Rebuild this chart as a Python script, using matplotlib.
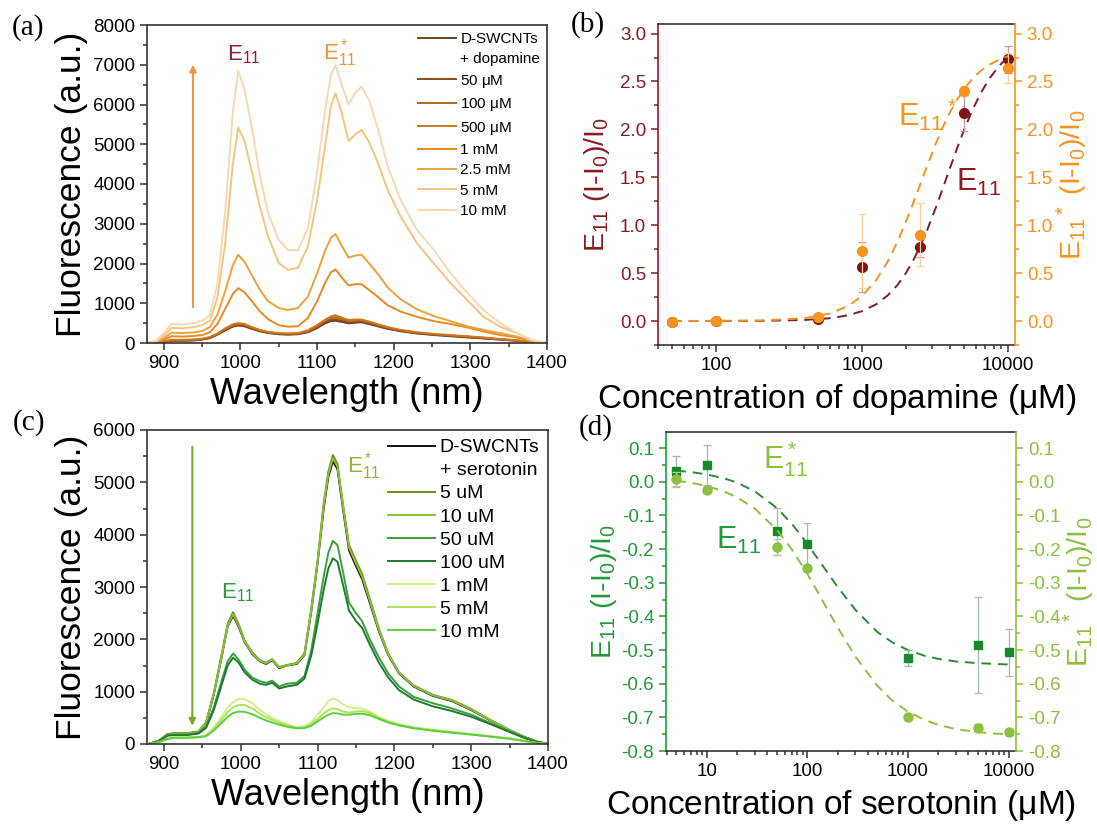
#!/usr/bin/env python3
"""
Fluorescence response of D-SWCNTs to dopamine and serotonin
(a) spectra vs dopamine, (b) dose response dopamine
(c) spectra vs serotonin, (d) dose response serotonin
"""
import matplotlib
matplotlib.use('Agg')
import matplotlib.pyplot as plt
from matplotlib.lines import Line2D
from matplotlib.ticker import MultipleLocator, LogLocator, NullFormatter

plt.rcParams['font.family'] = ['Liberation Sans', 'DejaVu Sans']
plt.rcParams['mathtext.fontset'] = 'custom'
plt.rcParams['mathtext.rm'] = 'Liberation Sans'
plt.rcParams['mathtext.it'] = 'Liberation Sans:italic'
plt.rcParams['mathtext.bf'] = 'Liberation Sans:bold'
plt.rcParams['mathtext.default'] = 'regular'

# ---------------- (a) spectra, dopamine ----------------
WL_DOPA = [878, 890, 900, 910, 925, 940, 950, 960, 970, 980, 990, 997, 1005, 1015,
           1025, 1036, 1050, 1062, 1075, 1088, 1100, 1110, 1118, 1124, 1132, 1141,
           1150, 1158, 1168, 1180, 1192, 1209, 1230, 1252, 1274, 1296, 1317, 1339,
           1361, 1380, 1400]
DOPA_LABELS = ['D-SWCNTs', '50 $\\mu$M', '100 $\\mu$M', '500 $\\mu$M', '1 mM',
               '2.5 mM', '5 mM', '10 mM']
DOPA_COLORS = ['#6e4128', '#8e4c1c', '#b5641d', '#cf771f', '#e88a24',
               '#eba23c', '#f3c581', '#f7d9b3']
DOPA_CTRL = [0, 10, 30, 55, 55, 65, 85, 120, 210, 315, 410, 440, 420, 355, 295, 250,
             220, 210, 220, 270, 375, 490, 550, 560, 530, 495, 510, 520, 475, 415,
             355, 295, 240, 200, 170, 140, 115, 85, 55, 15, 0]
DOPA_50U = [0, 10, 30, 60, 60, 70, 90, 130, 220, 330, 430, 460, 440, 370, 310, 260,
            230, 220, 230, 285, 395, 520, 585, 600, 560, 520, 535, 540, 495, 430,
            370, 305, 250, 210, 180, 150, 120, 90, 60, 15, 0]
DOPA_100U = [0, 10, 35, 70, 70, 80, 100, 140, 230, 350, 450, 480, 460, 385, 320, 270,
             240, 230, 240, 300, 420, 550, 630, 650, 600, 550, 565, 570, 520, 450,
             385, 320, 260, 220, 190, 160, 130, 95, 65, 20, 0]
DOPA_500U = [0, 10, 40, 80, 80, 90, 110, 150, 240, 370, 470, 500, 480, 400, 330, 280,
             250, 240, 250, 320, 450, 580, 670, 700, 640, 580, 590, 590, 540, 470,
             400, 330, 270, 230, 200, 170, 140, 100, 70, 20, 0]
DOPA_1M = [0, 20, 80, 170, 160, 180, 200, 270, 480, 860, 1230, 1380, 1280, 1050, 800,
           600, 450, 410, 420, 630, 1050, 1500, 1780, 1850, 1650, 1450, 1480, 1480,
           1330, 1150, 950, 790, 660, 550, 480, 390, 290, 200, 140, 40, 0]
DOPA_2M5 = [0, 30, 120, 260, 250, 270, 300, 400, 720, 1300, 1950, 2220, 2050, 1700,
            1350, 1050, 880, 830, 880, 1170, 1750, 2300, 2650, 2740, 2450, 2150, 2200,
            2220, 2000, 1720, 1400, 1100, 850, 680, 550, 420, 330, 250, 160, 50, 0]
DOPA_5M = [0, 40, 180, 380, 370, 400, 450, 560, 1150, 2500, 4500, 5420, 5100, 4300,
           3450, 2680, 2010, 1840, 1890, 2430, 3600, 4900, 5950, 6280, 5800, 5080, 5250,
           5360, 5050, 4500, 3850, 3180, 2520, 2010, 1510, 1080, 660, 410, 250, 70, 0]
DOPA_10M = [0, 60, 250, 480, 460, 500, 560, 700, 1500, 3300, 5800, 6850, 6400, 5400,
            4250, 3270, 2590, 2340, 2330, 2900, 4300, 5800, 6750, 6980, 6500, 6000, 6300,
            6450, 6100, 5350, 4450, 3600, 2850, 2350, 1760, 1260, 830, 500, 250, 80, 0]
DOPA_SPECTRA = [DOPA_CTRL, DOPA_50U, DOPA_100U, DOPA_500U, DOPA_1M, DOPA_2M5,
                DOPA_5M, DOPA_10M]

# ---------------- (b) dose response, dopamine ----------------
DOPA_CONC = [50, 100, 500, 1000, 2500, 5000, 10000]
DOPA_E11 = [-0.01, 0.0, 0.02, 0.56, 0.77, 2.17, 2.73]
DOPA_E11_ERR = [0.02, 0.02, 0.02, 0.26, 0.10, 0.19, 0.14]
DOPA_E11S = [-0.01, 0.0, 0.04, 0.73, 0.90, 2.40, 2.64]
DOPA_E11S_ERR = [0.02, 0.02, 0.03, 0.39, 0.33, 0.05, 0.16]
DOPA_FIT_X = [50, 200, 400, 600, 800, 1000, 1250, 1500, 1750, 2000, 2250, 2500, 2800,
              3200, 3600, 4000, 4500, 5000, 5700, 6500, 7500, 8700, 10000]
DOPA_FIT_E11 = [0.0, 0.002, 0.011, 0.029, 0.060, 0.103, 0.175, 0.268, 0.377, 0.502,
                0.637, 0.780, 0.954, 1.183, 1.399, 1.596, 1.812, 1.995, 2.201, 2.379,
                2.537, 2.664, 2.755]
DOPA_FIT_E11S = [0.0, 0.005, 0.029, 0.078, 0.156, 0.262, 0.428, 0.622, 0.829, 1.038,
                 1.238, 1.425, 1.625, 1.851, 2.033, 2.178, 2.317, 2.422, 2.528, 2.611,
                 2.678, 2.729, 2.764]

# ---------------- (c) spectra, serotonin ----------------
WL_SERO = [880, 893, 905, 915, 930, 945, 955, 965, 975, 983, 990, 997, 1005, 1015,
           1025, 1033, 1041, 1050, 1060, 1073, 1083, 1092, 1100, 1108, 1114, 1120,
           1126, 1133, 1141, 1150, 1158, 1168, 1180, 1192, 1206, 1225, 1250, 1275,
           1300, 1325, 1350, 1370, 1385, 1400]
SERO_LABELS = ['D-SWCNTs', '5 uM', '10 uM', '50 uM', '100 uM', '1 mM', '5 mM', '10 mM']
SERO_COLORS = ['#111111', '#6b8a22', '#8cbf3c', '#3b9f3e', '#1f7a30',
               '#d2f08e', '#b0e25a', '#5ccf3c']
SERO_CTRL = [0, 60, 190, 200, 200, 230, 400, 950, 1650, 2250, 2450, 2250, 1950, 1720,
             1580, 1530, 1600, 1450, 1500, 1530, 1700, 2550, 3450, 4500, 5100, 5400,
             5250, 4500, 3700, 3400, 3150, 2700, 2150, 1700, 1350, 1100, 920, 820, 650,
             450, 260, 130, 50, 0]
SERO_5U = [0, 60, 190, 210, 210, 240, 420, 980, 1700, 2300, 2520, 2300, 1980, 1750,
           1600, 1550, 1620, 1470, 1510, 1550, 1730, 2600, 3500, 4600, 5200, 5520,
           5350, 4600, 3800, 3500, 3250, 2780, 2200, 1730, 1370, 1120, 940, 840, 670,
           460, 270, 130, 50, 0]
SERO_10U = [0, 60, 180, 200, 200, 230, 410, 960, 1660, 2260, 2480, 2270, 1960, 1730,
            1590, 1540, 1610, 1460, 1500, 1540, 1710, 2570, 3470, 4550, 5150, 5460,
            5300, 4550, 3750, 3450, 3200, 2740, 2170, 1710, 1360, 1110, 930, 830, 660,
            455, 265, 130, 50, 0]
SERO_50U = [0, 50, 170, 180, 180, 210, 330, 700, 1200, 1580, 1730, 1620, 1420, 1270,
            1200, 1170, 1210, 1100, 1150, 1170, 1300, 1800, 2500, 3200, 3650, 3880,
            3800, 3300, 2700, 2500, 2350, 2000, 1650, 1350, 1100, 900, 780, 680, 560,
            400, 240, 120, 40, 0]
SERO_100U = [0, 50, 160, 170, 170, 200, 310, 650, 1120, 1500, 1650, 1560, 1370, 1230,
             1150, 1130, 1170, 1060, 1100, 1130, 1250, 1700, 2300, 2950, 3350, 3550,
             3480, 3050, 2550, 2350, 2220, 1900, 1550, 1270, 1030, 850, 720, 630, 520,
             380, 230, 110, 40, 0]
SERO_1M = [0, 30, 100, 120, 120, 130, 170, 320, 520, 700, 800, 860, 860, 780, 650, 570,
           500, 440, 380, 320, 340, 420, 560, 700, 820, 870, 840, 760, 700, 690, 680,
           620, 520, 440, 380, 320, 270, 230, 190, 150, 110, 60, 20, 0]
SERO_5M = [0, 30, 100, 120, 120, 130, 160, 290, 460, 610, 700, 745, 745, 680, 580, 510,
           460, 410, 360, 310, 320, 380, 480, 580, 650, 680, 665, 620, 600, 620, 630,
           590, 500, 430, 370, 310, 265, 225, 185, 145, 105, 55, 20, 0]
SERO_10M = [0, 30, 100, 120, 120, 130, 150, 260, 400, 520, 590, 620, 615, 570, 500,
            450, 410, 370, 330, 300, 305, 350, 430, 510, 560, 590, 585, 560, 560, 575,
            580, 550, 480, 410, 355, 300, 255, 215, 180, 140, 100, 55, 20, 0]
SERO_SPECTRA = [SERO_CTRL, SERO_5U, SERO_10U, SERO_50U, SERO_100U, SERO_1M,
                SERO_5M, SERO_10M]

# ---------------- (d) dose response, serotonin ----------------
SERO_CONC = [5, 10, 50, 100, 1000, 5000, 10000]
SERO_E11 = [0.031, 0.050, -0.147, -0.184, -0.523, -0.486, -0.507]
SERO_E11_ERR = [0.045, 0.060, 0.070, 0.062, 0.024, 0.143, 0.069]
SERO_E11S = [0.009, -0.024, -0.194, -0.256, -0.699, -0.731, -0.745]
SERO_E11S_ERR = [0.02, 0.01, 0.025, 0.01, 0.01, 0.01, 0.008]
SERO_FIT_X = [5, 7, 10, 15, 20, 30, 50, 70, 100, 150, 200, 300, 500, 700, 1000, 1500,
              2000, 3000, 5000, 7000, 10000]
SERO_FIT_E11 = [0.033, 0.029, 0.022, 0.010, -0.002, -0.028, -0.078, -0.124, -0.184,
                -0.259, -0.312, -0.380, -0.447, -0.477, -0.500, -0.518, -0.526,
                -0.534, -0.539, -0.541, -0.543]
SERO_FIT_E11S = [0.003, -0.003, -0.012, -0.029, -0.046, -0.079, -0.143, -0.200,
                 -0.273, -0.366, -0.432, -0.519, -0.607, -0.650, -0.683, -0.709,
                 -0.722, -0.735, -0.744, -0.748, -0.750]

DARK_RED = '#8b1a22'
ORANGE = '#f7931e'
GREEN_D = '#22993a'
GREEN_L = '#8cc03f'
SPINE = '#333333'

TICK_FS = 13.5
YLAB_FS = 20.5
W, H = 1097, 825


def rect(left, top, right, bottom):
    return [left / W, 1 - bottom / H, (right - left) / W, (bottom - top) / H]


def style_axis(ax):
    for s in ax.spines.values():
        s.set_color(SPINE)
        s.set_linewidth(1.2)
    ax.tick_params(which='both', direction='out', top=False, right=False,
                   labelsize=TICK_FS, width=1.1, color=SPINE)
    ax.tick_params(which='major', length=5)
    ax.tick_params(which='minor', length=3)


def spectra_panel(ax, wl, spectra, labels, colors, extra, ymax, ystep, leg_fs,
                  leg_hl, leg_sp):
    for y, c in zip(spectra, colors):
        ax.plot(wl, y, color=c, lw=1.4)
    ax.set_xlim(878, 1400)
    ax.set_ylim(0, ymax)
    ax.xaxis.set_major_locator(MultipleLocator(100))
    ax.xaxis.set_minor_locator(MultipleLocator(50))
    ax.yaxis.set_major_locator(MultipleLocator(ystep))
    ax.yaxis.set_minor_locator(MultipleLocator(ystep / 2))
    style_axis(ax)
    ax.set_xlabel('Wavelength (nm)', fontsize=26, labelpad=4)
    ax.set_ylabel('Fluorescence (a.u.)', fontsize=25.5, labelpad=4)

    handles = [Line2D([], [], color=colors[0], lw=1.4),
               Line2D([], [], color='none')]
    handles += [Line2D([], [], color=c, lw=1.4) for c in colors[1:]]
    names = [labels[0], extra] + labels[1:]
    ax.legend(handles, names, loc='upper right', bbox_to_anchor=(1.0, 1.0),
              frameon=False, fontsize=leg_fs, handlelength=leg_hl,
              handletextpad=0.25, labelspacing=leg_sp, borderaxespad=0.25,
              borderpad=0.2)


fig = plt.figure(figsize=(W / 100, H / 100), dpi=100)

# ---- (a)
ax_a = fig.add_axes(rect(147, 25, 547, 343))
spectra_panel(ax_a, WL_DOPA, DOPA_SPECTRA, DOPA_LABELS, DOPA_COLORS,
              '+ dopamine', 8000, 1000, 11, 2.5, 0.42)
ax_a.annotate('', xy=(938, 7000), xytext=(938, 900),
              arrowprops=dict(arrowstyle='-|>', color='#f5963a', lw=1.5,
                              mutation_scale=10, shrinkA=0, shrinkB=0))
ax_a.text(1004, 7250, 'E$_{11}$', color='#8b1c2c', fontsize=16,
          ha='center', va='center')
ax_a.text(1130, 7300, 'E$^*_{11}$', color='#f0923a', fontsize=16,
          ha='center', va='center')

# ---- (b)
ax_b = fig.add_axes(rect(658, 24, 1015, 345))
ax_b.plot(DOPA_FIT_X, DOPA_FIT_E11, '--', color='#7a1e2a', lw=1.4, dashes=(5, 3.5))
ax_b.errorbar(DOPA_CONC, DOPA_E11, yerr=DOPA_E11_ERR, fmt='o', color='#7e1416',
              ecolor='#c79a9a', elinewidth=0.9, capsize=3, capthick=0.9,
              markersize=7, zorder=3)
ax_b.set_xscale('log')
ax_b.set_xlim(40, 11160)
ax_b.set_ylim(-0.25, 3.1)
style_axis(ax_b)
ax_b.spines['right'].set_visible(False)
ax_b.spines['left'].set_color(DARK_RED)
ax_b.tick_params(axis='y', which='both', colors=DARK_RED)
ax_b.yaxis.set_major_locator(MultipleLocator(0.5))
ax_b.yaxis.set_minor_locator(MultipleLocator(0.25))
ax_b.yaxis.set_major_formatter(plt.FormatStrFormatter('%.1f'))
ax_b.set_xticks([100, 1000, 10000])
ax_b.set_xticklabels(['100', '1000', '10000'])
ax_b.xaxis.set_minor_locator(LogLocator(base=10, subs=range(2, 10), numticks=20))
ax_b.xaxis.set_minor_formatter(NullFormatter())
ax_b.set_xlabel('Concentration of dopamine ($\\mu$M)', fontsize=24, labelpad=6)
ax_b.set_ylabel('E$_{11}$ (I-I$_0$)/I$_0$', fontsize=YLAB_FS, color=DARK_RED,
                labelpad=6)

ax_b2 = ax_b.twinx()
ax_b2.plot(DOPA_FIT_X, DOPA_FIT_E11S, '--', color=ORANGE, lw=1.4, dashes=(5, 3.5))
ax_b2.errorbar(DOPA_CONC, DOPA_E11S, yerr=DOPA_E11S_ERR, fmt='o', color=ORANGE,
               ecolor='#f5d0a0', elinewidth=0.9, capsize=3, capthick=0.9,
               markersize=7, zorder=3)
ax_b2.set_ylim(-0.25, 3.1)
for side in ['left', 'top', 'bottom']:
    ax_b2.spines[side].set_visible(False)
ax_b2.spines['right'].set_color(ORANGE)
ax_b2.spines['right'].set_linewidth(1.2)
ax_b2.yaxis.set_major_locator(MultipleLocator(0.5))
ax_b2.yaxis.set_minor_locator(MultipleLocator(0.25))
ax_b2.yaxis.set_major_formatter(plt.FormatStrFormatter('%.1f'))
ax_b2.tick_params(axis='y', which='both', direction='out', colors=ORANGE,
                  labelsize=TICK_FS, width=1.1)
ax_b2.tick_params(axis='y', which='major', length=5)
ax_b2.tick_params(axis='y', which='minor', length=3)
ax_b2.set_ylabel('E$_{11}$$^*$ (I-I$_0$)/I$_0$', fontsize=YLAB_FS, color=ORANGE,
                 labelpad=1)
ax_b2.text(1770, 2.15, 'E$_{11}$$^*$', color=ORANGE, fontsize=22,
           ha='left', va='center')
ax_b2.text(4370, 1.45, 'E$_{11}$', color=DARK_RED, fontsize=22,
           ha='left', va='center')

# ---- (c)
ax_c = fig.add_axes(rect(147, 430, 548, 744))
spectra_panel(ax_c, WL_SERO, SERO_SPECTRA, SERO_LABELS, SERO_COLORS,
              '+ serotonin', 6000, 1000, 14, 2.4, 0.28)
ax_c.annotate('', xy=(937, 350), xytext=(937, 5680),
              arrowprops=dict(arrowstyle='-|>', color='#7aa72e', lw=1.5,
                              mutation_scale=10, shrinkA=0, shrinkB=0))
ax_c.text(996, 2900, 'E$_{11}$', color='#2e9a3c', fontsize=16,
          ha='center', va='center')
ax_c.text(1160, 5320, 'E$^*_{11}$', color='#8cb43c', fontsize=16,
          ha='center', va='center')

# ---- (d)
ax_d = fig.add_axes(rect(666, 432, 1016, 751))
ax_d.plot(SERO_FIT_X, SERO_FIT_E11, '--', color='#2a8a3a', lw=1.4, dashes=(5, 3.5))
ax_d.errorbar(SERO_CONC, SERO_E11, yerr=SERO_E11_ERR, fmt='s', color='#168a2a',
              ecolor='#a8b8a8', elinewidth=0.9, capsize=3, capthick=0.9,
              markersize=6, zorder=3)
ax_d.set_xscale('log')
ax_d.set_xlim(3.95, 11870)
ax_d.set_ylim(-0.8, 0.148)
style_axis(ax_d)
ax_d.spines['right'].set_visible(False)
ax_d.spines['left'].set_color(GREEN_D)
ax_d.tick_params(axis='y', which='both', colors=GREEN_D)
ax_d.yaxis.set_major_locator(MultipleLocator(0.1))
ax_d.yaxis.set_minor_locator(MultipleLocator(0.05))
ax_d.yaxis.set_major_formatter(plt.FormatStrFormatter('%.1f'))
ax_d.set_xticks([10, 100, 1000, 10000])
ax_d.set_xticklabels(['10', '100', '1000', '10000'])
ax_d.xaxis.set_minor_locator(LogLocator(base=10, subs=range(2, 10), numticks=20))
ax_d.xaxis.set_minor_formatter(NullFormatter())
ax_d.set_xlabel('Concentration of serotonin ($\\mu$M)', fontsize=24, labelpad=6)
ax_d.set_ylabel('E$_{11}$ (I-I$_0$)/I$_0$', fontsize=YLAB_FS, color=GREEN_D,
                labelpad=2)

ax_d2 = ax_d.twinx()
ax_d2.plot(SERO_FIT_X, SERO_FIT_E11S, '--', color=GREEN_L, lw=1.4, dashes=(5, 3.5))
ax_d2.errorbar(SERO_CONC, SERO_E11S, yerr=SERO_E11S_ERR, fmt='o', color=GREEN_L,
               ecolor='#b8c8a8', elinewidth=0.9, capsize=3, capthick=0.9,
               markersize=6.5, zorder=3)
ax_d2.set_ylim(-0.8, 0.148)
for side in ['left', 'top', 'bottom']:
    ax_d2.spines[side].set_visible(False)
ax_d2.spines['right'].set_color(GREEN_L)
ax_d2.spines['right'].set_linewidth(1.2)
ax_d2.yaxis.set_major_locator(MultipleLocator(0.1))
ax_d2.yaxis.set_minor_locator(MultipleLocator(0.05))
ax_d2.yaxis.set_major_formatter(plt.FormatStrFormatter('%.1f'))
ax_d2.tick_params(axis='y', which='both', direction='out', colors=GREEN_L,
                  labelsize=TICK_FS, width=1.1)
ax_d2.tick_params(axis='y', which='major', length=5)
ax_d2.tick_params(axis='y', which='minor', length=3)
ax_d2.set_ylabel('E$_{11}$$^*$ (I-I$_0$)/I$_0$', fontsize=YLAB_FS, color=GREEN_L,
                 labelpad=1)
ax_d2.text(36, 0.068, 'E$^*_{11}$', color=GREEN_L, fontsize=22,
           ha='left', va='center')
ax_d2.text(12.3, -0.174, 'E$_{11}$', color=GREEN_D, fontsize=22,
           ha='left', va='center')

# panel letters
for (px, py), letter in zip([(28, 28), (588, 25), (29, 423), (596, 428)],
                            ['(a)', '(b)', '(c)', '(d)']):
    fig.text(px / W, 1 - py / H, letter, fontsize=21, family='Liberation Serif',
             ha='center', va='center')

fig.savefig('out.png', dpi=100)
